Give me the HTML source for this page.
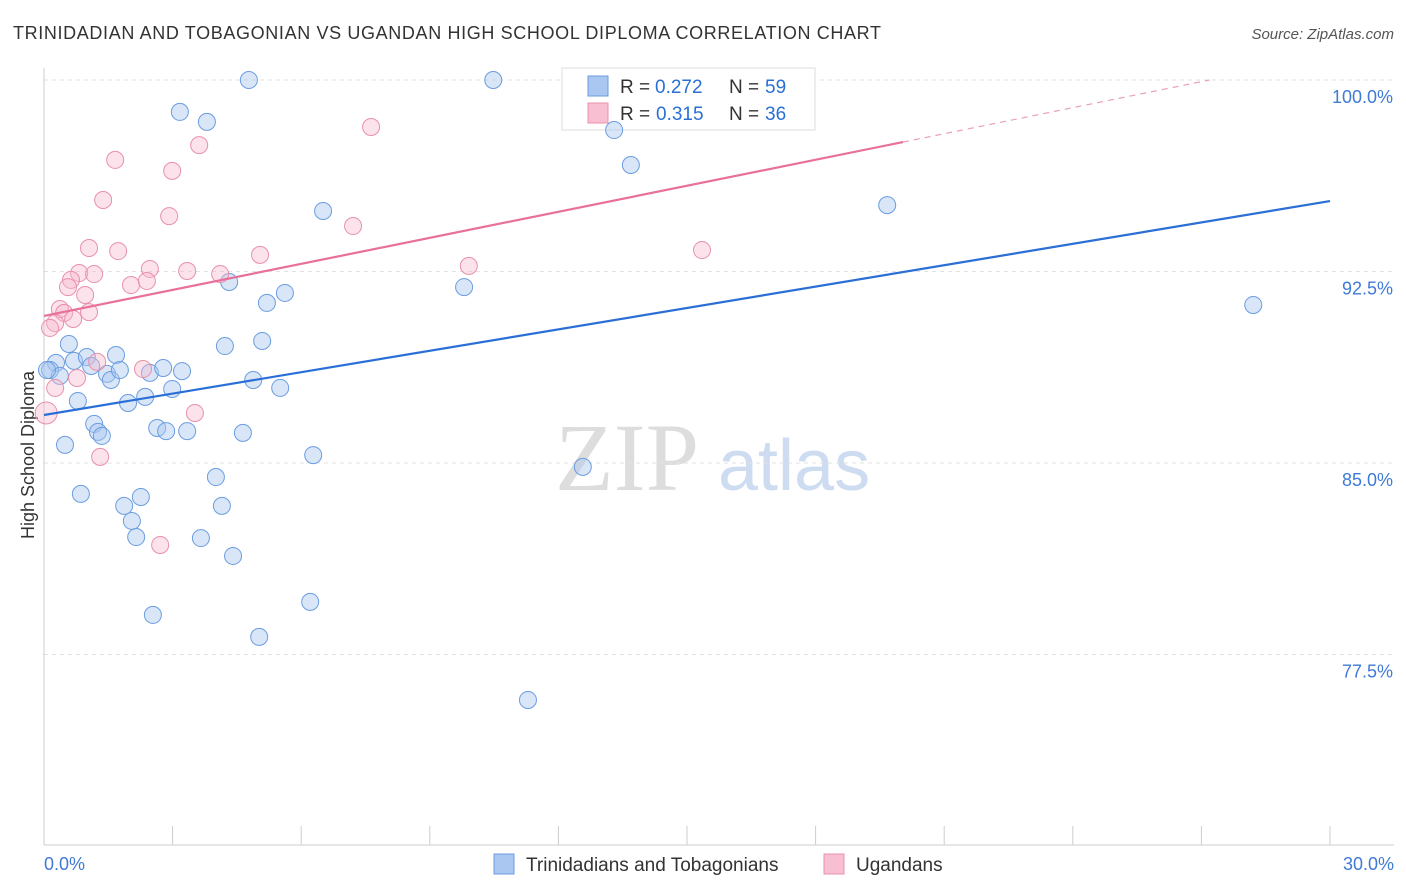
<!DOCTYPE html>
<html><head><meta charset="utf-8"><style>
body{margin:0;background:#fff;font-family:"Liberation Sans",sans-serif;}
#wrap{position:relative;width:1406px;height:892px;overflow:hidden;}
</style></head><body>
<div id="wrap">
<svg id="chart" width="1406" height="892" xmlns="http://www.w3.org/2000/svg">
<text x="13" y="39" font-size="18" textLength="868" fill="#333">TRINIDADIAN AND TOBAGONIAN VS UGANDAN HIGH SCHOOL DIPLOMA CORRELATION CHART</text>
<text x="1394" y="39" font-size="15" fill="#555" font-style="italic" text-anchor="end">Source: ZipAtlas.com</text>
<text x="555" y="490" font-size="96" fill="#ddd" font-family="Liberation Serif, serif">ZIP</text>
<text x="718" y="490" font-size="72" fill="#cddcf0">atlas</text>
<text x="34" y="455" font-size="18" fill="#333" text-anchor="middle" transform="rotate(-90 34 455)">High School Diploma</text>
<g id="grid"></g>
<g>
<rect x="562" y="68" width="253" height="62" fill="#fff" stroke="#ddd"/>
<rect x="588" y="76" width="20" height="20" fill="#a9c7f0" stroke="#6b9de0"/>
<rect x="588" y="103" width="20" height="20" fill="#f7bfd1" stroke="#e890ab"/>
<text x="620" y="93" font-size="19" fill="#333">R =</text>
<text x="655" y="93" font-size="19" fill="#2a6fd6">0.272</text>
<text x="729" y="93" font-size="19" fill="#333">N =</text>
<text x="765" y="93" font-size="19" fill="#2a6fd6">59</text>
<text x="620" y="120" font-size="19" fill="#333">R =</text>
<text x="656" y="120" font-size="19" fill="#2a6fd6">0.315</text>
<text x="729" y="120" font-size="19" fill="#333">N =</text>
<text x="765" y="120" font-size="19" fill="#2a6fd6">36</text>
</g>
<g id="marks"></g><g id="lines"></g>
<g>
<rect x="494" y="854" width="20" height="20" fill="#a9c7f0" stroke="#6b9de0"/>
<text x="526" y="871" font-size="19" fill="#333">Trinidadians and Tobagonians</text>
<rect x="824" y="854" width="20" height="20" fill="#f7bfd1" stroke="#e890ab"/>
<text x="856" y="871" font-size="19" fill="#333">Ugandans</text>
</g>
</svg></div>
<script>
const blueX=[4.78,10.48,3.17,3.80,13.30,13.69,6.51,19.67,4.32,5.20,5.62,9.80,28.21,4.22,5.09,0.58,0.28,0.14,0.37,0.70,1.00,1.68,1.10,1.47,1.56,1.77,2.47,2.78,3.22,2.99,4.88,5.51,0.79,1.96,2.36,1.17,1.26,1.35,2.64,2.85,3.34,4.64,0.49,6.28,12.57,0.86,4.01,1.87,2.26,4.15,2.05,2.15,3.66,4.41,2.54,6.21,5.02,11.29,0.07];
const blueY=[100.0,100.0,98.75,98.36,98.04,96.67,94.87,95.10,92.09,91.27,91.66,91.89,91.19,89.58,89.78,89.66,88.92,88.64,88.41,89.00,89.15,89.23,88.80,88.49,88.25,88.64,88.53,88.72,88.60,87.90,88.25,87.94,87.43,87.35,87.59,86.53,86.22,86.06,86.37,86.25,86.25,86.18,85.71,85.31,84.85,83.79,84.45,83.32,83.67,83.32,82.73,82.10,82.06,81.36,79.05,79.56,78.19,75.72,88.64];
const pinkX=[7.63,1.66,3.62,2.99,1.38,2.92,7.21,1.05,1.73,5.04,15.35,2.47,3.34,4.11,9.91,0.82,1.17,0.63,2.03,2.40,0.56,0.96,0.37,0.47,1.05,0.68,0.26,0.14,1.24,2.31,0.77,0.26,3.52,0.05,1.31,2.71];
const pinkY=[98.16,96.87,97.45,96.44,95.30,94.67,94.28,93.42,93.30,93.15,93.34,92.60,92.52,92.40,92.72,92.44,92.40,92.17,91.97,92.13,91.89,91.58,91.03,90.88,90.91,90.64,90.48,90.29,88.96,88.68,88.33,87.94,86.96,86.96,85.24,81.79];
const blueTrend=[86.88,95.26];
const pinkTrend=[90.76,97.57,20.04];
const yTicks=[100,92.5,85,77.5];
const yTickLabels=["100.0%","92.5%","85.0%","77.5%"];
const xTicks=[0,3,6,9,12,15,18,21,24,27,30];
const NS="http://www.w3.org/2000/svg";
const X=v=>44+v/30*1286, Y=v=>80+(100-v)/7.5*191.5;
function mk(t,a,p){const e=document.createElementNS(NS,t);for(const k in a)e.setAttribute(k,a[k]);p.appendChild(e);return e;}
const grid=document.getElementById('grid'),marks=document.getElementById('marks'),lines=document.getElementById('lines');
yTicks.forEach((v,i)=>{
 const l=mk('line',{x1:44,x2:1394,y1:Y(v),y2:Y(v),stroke:'#e2e2e2','stroke-dasharray':'4 4'},grid);
 
 
 const t=mk('text',{x:1393,y:Y(v)+23,'font-size':18,fill:'#3f7ad6','text-anchor':'end'},grid);
 t.textContent=yTickLabels[i];
 
 
});
const ax=mk('line',{x1:44,x2:44,y1:68,y2:845,stroke:'#ccc'},grid);


const bx=mk('line',{x1:44,x2:1394,y1:845,y2:845,stroke:'#ccc'},grid);


xTicks.forEach(v=>{
 const l=mk('line',{x1:X(v),x2:X(v),y1:826,y2:845,stroke:'#ccc'},grid);
 
 
});
[[0,'0.0%','start',44],[30,'30.0%','end',1394]].forEach(a=>{
 const t=mk('text',{x:a[3],y:870,'font-size':18,fill:'#3f7ad6','text-anchor':a[2]},grid);
 t.textContent=a[1];
 
 
});
blueX.forEach((v,i)=>{
 const c=mk('circle',{cx:X(v),cy:Y(blueY[i]),r:8.5,fill:'rgba(169,199,240,0.45)',stroke:'#6b9de0','stroke-width':1},marks);
 
 
});
pinkX.forEach((v,i)=>{
 const c=mk('circle',{cx:X(v),cy:Y(pinkY[i]),r:(i==33?11:8.5),fill:'rgba(247,184,204,0.4)',stroke:'#e890ab','stroke-width':1},marks);
 
 
});
const bl=mk('line',{x1:X(0),y1:Y(blueTrend[0]),x2:X(30),y2:Y(blueTrend[1]),stroke:'#2a6fd6','stroke-width':2.2},lines);


const slope=(pinkTrend[1]-pinkTrend[0])/pinkTrend[2];
const pl=mk('line',{x1:X(0),y1:Y(pinkTrend[0]),x2:X(pinkTrend[2]),y2:Y(pinkTrend[1]),stroke:'#e8709a','stroke-width':2.2},lines);


const xEnd=(100-pinkTrend[0])/slope;
const pd=mk('line',{x1:X(pinkTrend[2]),y1:Y(pinkTrend[1]),x2:X(xEnd),y2:Y(100),stroke:'#eaa0ba','stroke-width':1.2,'stroke-dasharray':'6 5'},lines);


</script>
</body></html>
